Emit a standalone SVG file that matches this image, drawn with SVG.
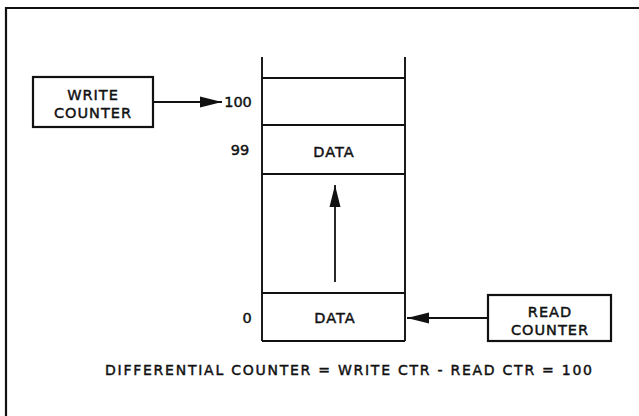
<svg xmlns="http://www.w3.org/2000/svg" width="639" height="416" viewBox="0 0 639 416">
  <style>
    .frame { fill: none; stroke: #111; stroke-width: 2.2; }
    .box { fill: #fff; stroke: #111; stroke-width: 2.2; }
    .cell { fill: none; stroke: #111; stroke-width: 1.9; }
    .wire { fill: none; stroke: #111; stroke-width: 1.8; }
    text { font-family: "DejaVu Sans", "Liberation Sans", sans-serif; fill: #111; stroke: #111; stroke-width: 0.45px; }
    .lbl { font-size: 14.5px; text-anchor: middle; letter-spacing: 1px; }
    .num { font-size: 14.5px; text-anchor: middle; }
    .cap { font-size: 14px; }
  </style>
  <defs>
    <marker id="head" markerUnits="userSpaceOnUse" markerWidth="22" markerHeight="12" viewBox="0 0 20 10" refX="20" refY="5" orient="auto">
      <path d="M0,0 L20,5 L0,10 Z" fill="#111"/>
    </marker>
  </defs>

  <rect width="639" height="416" fill="#fff"/>

  <!-- open frame: top and left edges only -->
  <path class="frame" d="M6,416 V8 H639"/>

  <!-- memory column -->
  <g id="memory">
    <path class="cell" d="M262,57 V341 M405,57 V341"/>
    <path class="cell" d="M262,78 H405 M262,125 H405 M262,174 H405 M262,293 H405 M262,341 H405"/>
    <text class="num" x="238" y="107">100</text>
    <text class="num" x="240" y="155">99</text>
    <text class="lbl" x="334" y="157">DATA</text>
    <text class="num" x="247" y="323">0</text>
    <text class="lbl" x="335" y="323">DATA</text>
  </g>

  <g id="write-counter">
    <rect class="box" x="33" y="77" width="120" height="50"/>
    <text class="lbl" x="93" y="100">WRITE</text>
    <text class="lbl" x="93" y="118">COUNTER</text>
  </g>

  <g id="read-counter">
    <rect class="box" x="488" y="295" width="123" height="46"/>
    <text class="lbl" x="550" y="317">READ</text>
    <text class="lbl" x="550" y="335">COUNTER</text>
  </g>

  <g id="connectors">
    <line class="wire" x1="153" y1="102" x2="222" y2="102" marker-end="url(#head)"/>
    <line class="wire" x1="335" y1="282" x2="335" y2="185" marker-end="url(#head)"/>
    <line class="wire" x1="488" y1="318" x2="407" y2="318" marker-end="url(#head)"/>
  </g>

  <text class="cap" x="105" y="375" textLength="487" lengthAdjust="spacing">DIFFERENTIAL COUNTER = WRITE CTR - READ CTR = 100</text>
</svg>
